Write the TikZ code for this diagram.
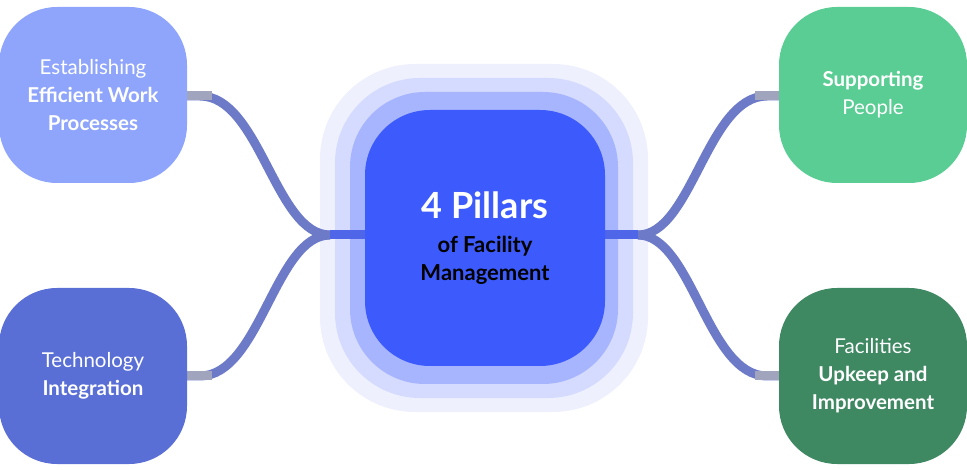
\documentclass[tikz,border=0pt]{standalone}
\usepackage{fontspec}
\setmainfont{Lato}
\definecolor{ctl}{HTML}{8FA5FC}\definecolor{cbl}{HTML}{5A6FD6}
\definecolor{ctr}{HTML}{5ACD94}\definecolor{cbr}{HTML}{3E8862}
\definecolor{lineA}{HTML}{6C7AC8}\definecolor{lineB}{HTML}{4F66E8}\definecolor{lineG}{HTML}{A0A4BC}
\definecolor{h1}{HTML}{EEF0FE}\definecolor{h2}{HTML}{D5DBFE}\definecolor{h3}{HTML}{A7B5FE}\definecolor{core}{HTML}{3D5BFD}
\begin{document}
\begin{tikzpicture}[x=1pt,y=-1pt,
  pill/.style={rounded corners=58pt, minimum width=188pt, minimum height=176pt, text=white, align=center, font=\fontsize{20.5}{28}\selectfont, inner sep=0pt},
  conn/.style={line width=9pt, draw=#1},
  ]
\useasboundingbox (0,0) rectangle (967,470);
% center layers
\fill[h1, rounded corners=95pt] (320,64) rectangle (648,412);
\fill[h2, rounded corners=85pt] (335,78) rectangle (633,398);
\fill[h3, rounded corners=75pt] (350,92) rectangle (618,384);
% connectors
\coordinate (jl) at (330,235); \coordinate (jr) at (638,235);
\coordinate (tlp) at (180,96); \coordinate (blp) at (180,376);
\coordinate (trp) at (787,96); \coordinate (brp) at (787,376);
\draw[conn=lineA] (tlp) -- (200,96) .. controls (260,96) and (275,235) .. (jl);
\draw[conn=lineA] (blp) -- (200,376) .. controls (260,376) and (275,235) .. (jl);
\draw[conn=lineA] (trp) -- (767,96) .. controls (707,96) and (692,235) .. (jr);
\draw[conn=lineA] (brp) -- (767,376) .. controls (707,376) and (692,235) .. (jr);
\draw[conn=lineG] (tlp) -- (212,96); \draw[conn=lineG] (blp) -- (212,376);
\draw[conn=lineG] (trp) -- (755,96); \draw[conn=lineG] (brp) -- (755,376);
\draw[conn=lineB] (jl) -- (380,235); \draw[conn=lineB] (jr) -- (590,235);
% core
\node[fill=core, rounded corners=65pt, minimum width=240pt, minimum height=256pt, align=center, font=\bfseries\fontsize{22}{28}\selectfont] (core) at (485,238)
 {\textcolor{white}{\fontsize{36}{40}\selectfont 4 Pillars}\\[6pt]
  of Facility\\
  Management};
\node[pill, fill=ctl] (tl) at (93,95) {Establishing\\\textbf{Efficient Work}\\\textbf{Processes}};
\node[pill, fill=cbl] (bl) at (93,376) {Technology\\\textbf{Integration}};
\node[pill, fill=ctr] (tr) at (873,95) {\textbf{Supporting}\\People};
\node[pill, fill=cbr] (br) at (873,376) {Facilities\\\textbf{Upkeep and}\\\textbf{Improvement}};
\end{tikzpicture}
\end{document}
